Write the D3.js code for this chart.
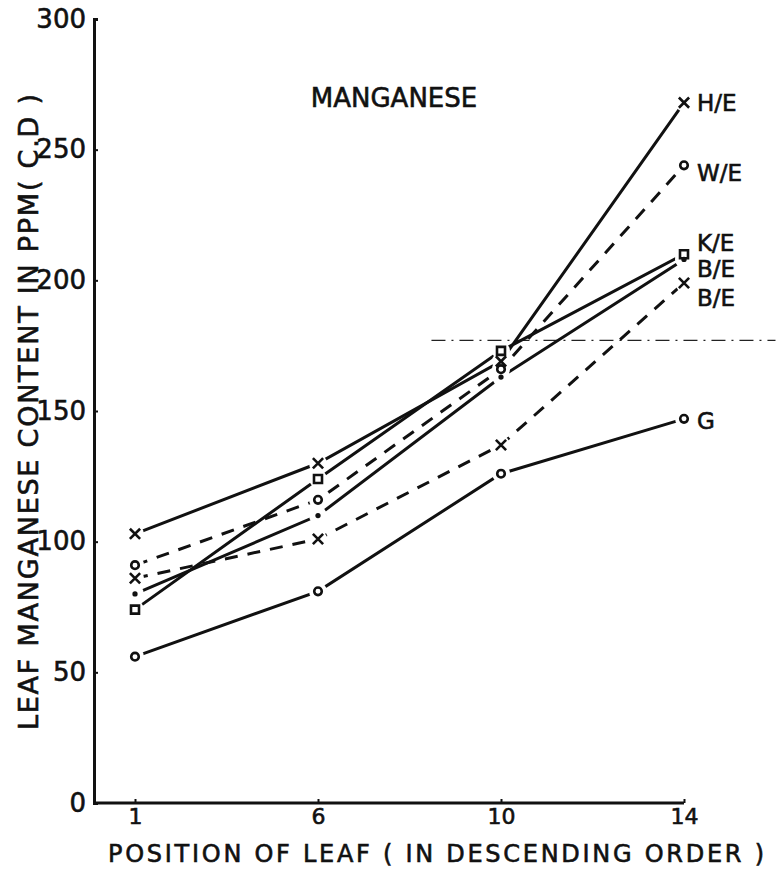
<!doctype html>
<html>
<head>
<meta charset="utf-8"/>
<title>Leaf manganese content</title>
<script src="https://d3js.org/d3.v7.min.js"></script>
<style>
  body { margin: 0; background: #fff; }
  svg text { font-family: "DejaVu Sans", sans-serif; fill: #111; stroke: #111; stroke-width: 0.6px; }
</style>
</head>
<body>
<svg id="chart"></svg>
<script>
// leaf positions (x categories)
var positions = ["1", "6", "10", "14"];
var yTicks = [0, 50, 100, 150, 200, 250, 300];

// series (ppm)
var seriesLabels = ["H/E", "W/E", "K/E", "B/E", "B/E", "G"];
var heValues  = [103, 130, 169, 268];
var weValues  = [91, 116, 166, 244];
var keValues  = [74, 124, 173, 210];
var be1Values = [80, 110, 163, 208];
var be2Values = [86, 101, 137, 199];
var gValues   = [56, 81, 126, 147];

// faint dash-dot reference line across the upper right
var refLineValue = 177;

var width = 780, height = 870;
var svg = d3.select("#chart").attr("width", width).attr("height", height);

var x = d3.scalePoint().domain(positions).range([135, 684]);
var xIdx = d3.scaleLinear().domain([0, positions.length - 1]).range([135, 684]);
var y = d3.scaleLinear().domain([0, 300]).range([803, 19]);
var axisX = 94;

// line styles / markers per series
var styles = [
  { values: heValues,  dash: null,    symbol: "x" },
  { values: weValues,  dash: "13,10", symbol: "circle" },
  { values: keValues,  dash: null,    symbol: "square" },
  { values: be1Values, dash: null,    symbol: "dot" },
  { values: be2Values, dash: "13,10", symbol: "x" },
  { values: gValues,   dash: null,    symbol: "circle" }
];
var labelNudge = [0, 7, -11, 9, 15, 2];

var line = d3.line()
  .x(function(d, i) { return x(positions[i]); })
  .y(function(d) { return y(d); });

// reference dash-dot line
svg.append("line")
  .attr("x1", xIdx(1.62)).attr("x2", xIdx(3.5))
  .attr("y1", y(refLineValue)).attr("y2", y(refLineValue))
  .attr("stroke", "#222").attr("stroke-width", 1.2)
  .attr("stroke-dasharray", "14,6,2,6");

// series lines
svg.selectAll("path.series")
  .data(styles)
  .enter()
  .append("path")
  .attr("class", "series")
  .attr("d", function(d) { return line(d.values); })
  .attr("fill", "none")
  .attr("stroke", "#111")
  .attr("stroke-width", 3)
  .attr("stroke-dasharray", function(d) { return d.dash; });

// white gaps where the lines stop short of the markers
var points = [];
styles.forEach(function(s, si) {
  s.values.forEach(function(v, i) {
    points.push({ x: x(positions[i]), y: y(v), symbol: s.symbol, s: si });
  });
});
svg.selectAll("circle.halo")
  .data(points)
  .enter()
  .append("circle")
  .attr("class", "halo")
  .attr("cx", function(d) { return d.x; })
  .attr("cy", function(d) { return d.y; })
  .attr("r", 9)
  .attr("fill", "#fff");

// markers
var symbolTypes = { x: d3.symbolX, circle: d3.symbolCircle, square: d3.symbolSquare, dot: d3.symbolCircle };
var symbolSizes = { x: 70, circle: 45, square: 64, dot: 22 };
svg.selectAll("path.marker")
  .data(points)
  .enter()
  .append("path")
  .attr("class", "marker")
  .attr("transform", function(d) { return "translate(" + d.x + "," + d.y + ")"; })
  .attr("d", function(d) { return d3.symbol().type(symbolTypes[d.symbol]).size(symbolSizes[d.symbol])(); })
  .attr("fill", function(d) { return d.symbol === "dot" ? "#111" : "none"; })
  .attr("stroke", "#111")
  .attr("stroke-width", function(d) { return d.symbol === "dot" ? 0 : 2.6; });

// series labels at the right end
svg.selectAll("text.serieslabel")
  .data(styles)
  .enter()
  .append("text")
  .attr("class", "serieslabel")
  .attr("x", x("14") + 13)
  .attr("y", function(d, i) { return y(d.values[d.values.length - 1]) + labelNudge[i]; })
  .attr("dy", "0.36em")
  .style("font-size", "23px")
  .text(function(d, i) { return seriesLabels[i]; });

// y axis
var yAxis = d3.axisLeft(y).tickValues(yTicks).tickSize(-4).tickPadding(8);
var gy = svg.append("g").attr("transform", "translate(" + axisX + ",0)").call(yAxis);
gy.select(".domain").attr("stroke", "#111").attr("stroke-width", 3);
gy.selectAll(".tick line").attr("stroke", "#111").attr("stroke-width", 2);
gy.selectAll(".tick text").style("font-size", "26px").attr("fill", "#111");

// x axis
var xAxis = d3.axisBottom(x).tickSize(-4).tickPadding(5);
var gx = svg.append("g").attr("transform", "translate(0," + y(0) + ")").call(xAxis);
gx.select(".domain").remove();
gx.append("line")
  .attr("x1", axisX).attr("x2", x("14"))
  .attr("stroke", "#111").attr("stroke-width", 3);
gx.selectAll(".tick line").attr("stroke", "#111").attr("stroke-width", 2);
gx.selectAll(".tick text").style("font-size", "22px").attr("fill", "#111");

// titles
svg.append("text")
  .attr("x", 394).attr("y", 98).attr("dy", "0.36em")
  .attr("text-anchor", "middle")
  .style("font-size", "26px")
  .text("MANGANESE");

svg.append("text")
  .attr("transform", "translate(28,412) rotate(-90)")
  .attr("text-anchor", "middle").attr("dy", "0.36em")
  .attr("textLength", 636).attr("lengthAdjust", "spacing")
  .style("font-size", "27px")
  .text("LEAF MANGANESE CONTENT IN PPM( C.D )");

svg.append("text")
  .attr("x", 436).attr("y", 853).attr("dy", "0.36em")
  .attr("text-anchor", "middle")
  .attr("textLength", 656).attr("lengthAdjust", "spacing")
  .style("font-size", "24px")
  .text("POSITION OF LEAF ( IN DESCENDING ORDER )");
</script>
</body>
</html>
